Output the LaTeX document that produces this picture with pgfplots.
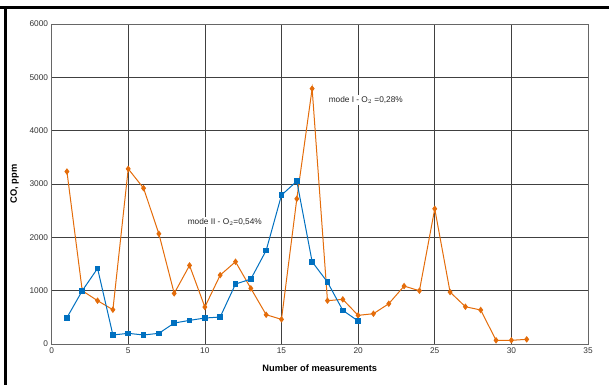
\documentclass[border=0pt]{standalone}
\usepackage{pgfplots}
\pgfplotsset{compat=1.18}
\usepackage{fontspec}
\setmainfont{Liberation Sans}
\definecolor{cOrange}{RGB}{228,108,10}
\definecolor{cBlue}{RGB}{0,112,192}
\begin{document}
\begin{tikzpicture}[x=1pt,y=1pt]
\begin{axis}[
  at={(51.6pt,41pt)}, anchor=origin,
  scale only axis, width=536.4pt, height=320pt,
  xmin=0, xmax=35, ymin=0, ymax=6000,
  xtick={0,5,...,35}, ytick={0,1000,...,6000},
  grid=major,
  major grid style={black!75, line width=0.6pt},
  axis line style={black!60, line width=0.8pt},
  tick style={draw=none},
  ticklabel style={font=\fontsize{8.3}{10}\selectfont, text=black!80},
  /pgf/number format/assume math mode=true,
  /pgf/number format/set thousands separator={},
  xlabel={\textbf{Number of measurements}},
  ylabel={\textbf{CO, ppm}},
  label style={font=\fontsize{9.3}{11}\selectfont},
  xlabel style={yshift=-4pt},
  ylabel style={yshift=4pt},
  clip=false,
]
\addplot[color=cOrange, line width=1pt, mark=diamond*, mark size=2.5pt, mark options={solid, fill=cOrange}] coordinates {
(1,3234) (2,999) (3,812) (4,643) (5,3284) (6,2922) (7,2066) (8,949) (9,1473) (10,693)
(11,1292) (12,1542) (13,1043) (14,549) (15,462) (16,2722) (17,4788) (18,812) (19,837) (20,537)
(21,568) (22,755) (23,1086) (24,999) (25,2535) (26,974) (27,699) (28,637) (29,69) (30,69) (31,87)
};
\addplot[color=cBlue, line width=1pt, mark=square*, mark size=2.3pt, mark options={solid, fill=cBlue}] coordinates {
(1,493) (2,999) (3,1417) (4,169) (5,200) (6,169) (7,200) (8,393) (9,443) (10,487)
(11,506) (12,1124) (13,1217) (14,1754) (15,2791) (16,3053) (17,1542) (18,1161) (19,631) (20,431)
};
\node[fill=white, inner sep=1.5pt, font=\fontsize{8.3}{10}\selectfont, text=black!85] at (axis cs:20.5,4575) {mode I - O$_2$ =0,28\%};
\node[fill=white, inner sep=1.5pt, font=\fontsize{8.3}{10}\selectfont, text=black!85] at (axis cs:11.3,2288) {mode II - O$_2$=0,54\%};
\end{axis}
\path (0,0) rectangle (609,385);
\fill[black] (0,375.5) rectangle (609,379);
\fill[black] (4,0) rectangle (7,379);
\end{tikzpicture}
\end{document}
